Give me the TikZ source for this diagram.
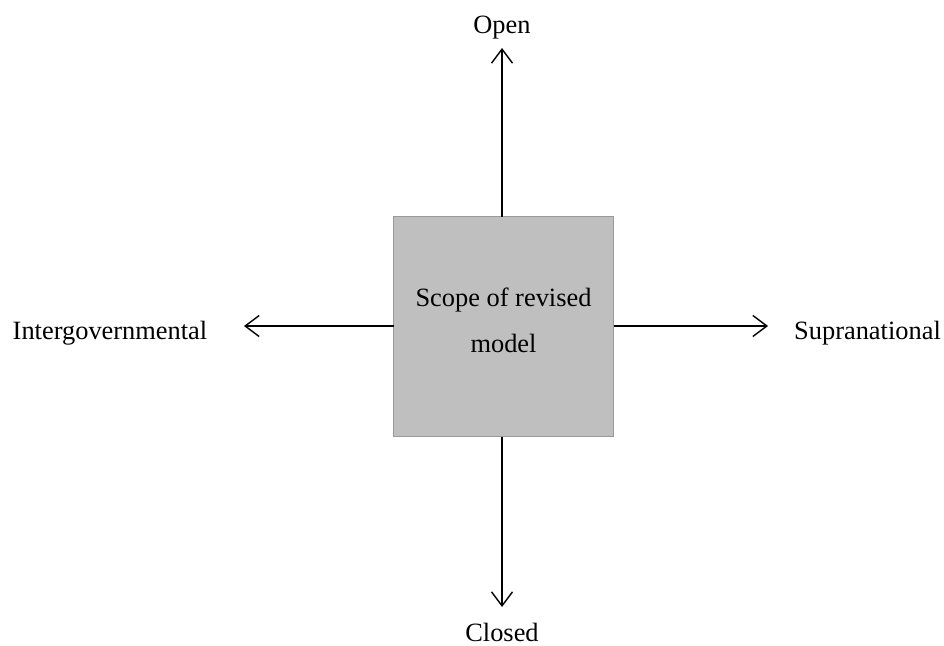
\documentclass[tikz,border=0pt]{standalone}
\usepackage{fontspec}
\setmainfont{Liberation Serif}
\usetikzlibrary{arrows.meta}
\begin{document}
\begin{tikzpicture}[x=1pt,y=-1pt,
  lbl/.style={font=\fontsize{26.4}{46}\selectfont, inner sep=0pt, anchor=base},
  scopebox/.style={draw=black!40, line width=1pt, fill=black!25, minimum width=220pt, minimum height=220pt, inner sep=0pt},
  axis/.style={line width=1.4pt, -{Straight Barb[length=14pt,width=21pt,line width=1.4pt]}}]
\useasboundingbox (0,0) rectangle (944,645);
\node[scopebox] (box) at (503.5,326.5) {};
\node[font=\fontsize{26.4}{46}\selectfont, align=center, inner sep=0pt, anchor=base] (scope) at (503.5,352) {Scope of revised\\model};
\coordinate (top) at (502,216.5);
\coordinate (bot) at (502,436.5);
\coordinate (lft) at (393.5,326);
\coordinate (rgt) at (613.5,326);
\node[lbl] (open) at (502,33) {Open};
\node[lbl] (closed) at (502,641) {Closed};
\node[lbl] (inter) at (110,339) {Intergovernmental};
\node[lbl] (supra) at (867.5,339) {Supranational};
\coordinate (tup) at (502,48);
\coordinate (tdn) at (502,607);
\coordinate (tl) at (244,326);
\coordinate (tr) at (768,326);
\draw[axis] (top) -- (tup);
\draw[axis] (bot) -- (tdn);
\draw[axis] (lft) -- (tl);
\draw[axis] (rgt) -- (tr);
\end{tikzpicture}
\end{document}
